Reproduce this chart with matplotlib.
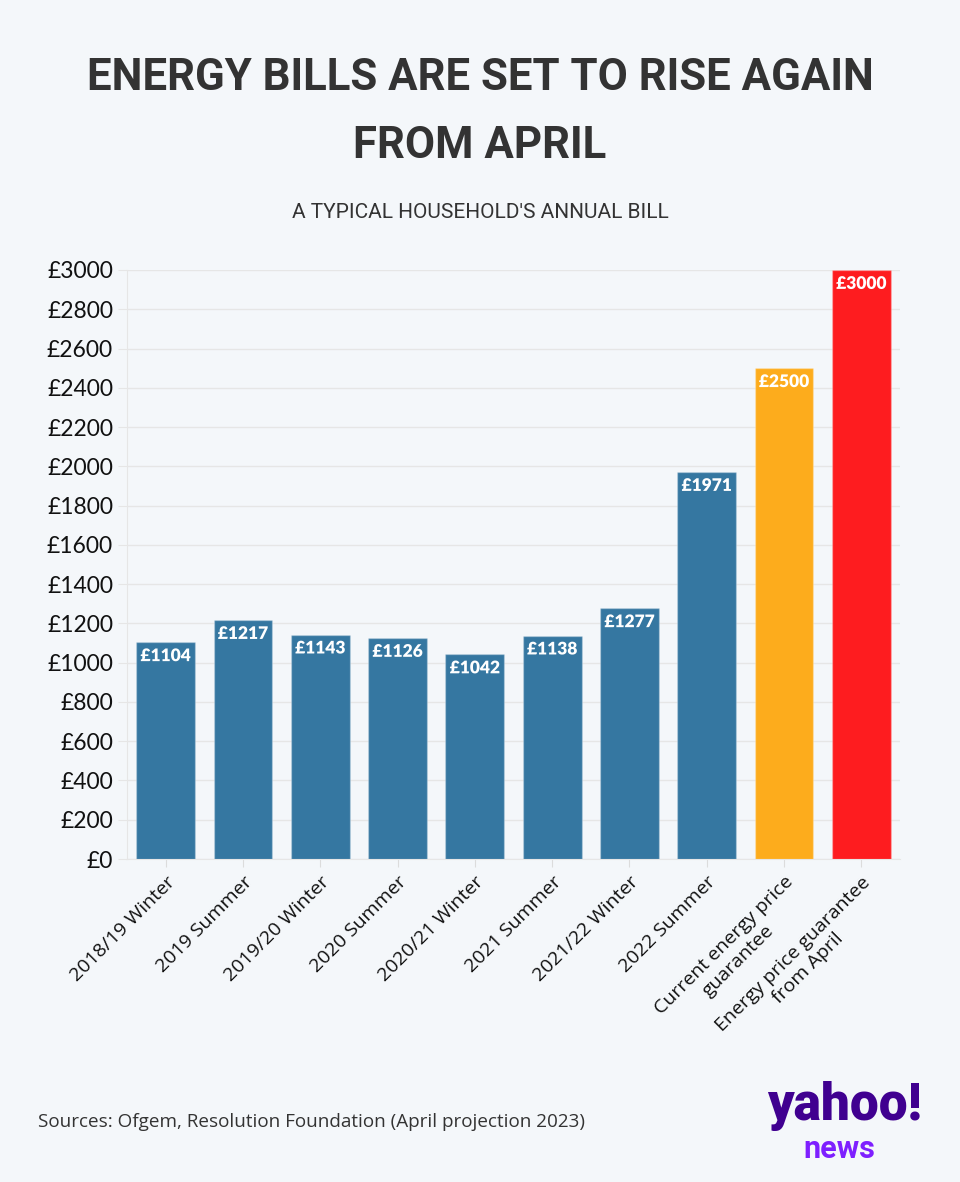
import matplotlib
matplotlib.use("Agg")
import matplotlib.pyplot as plt
import matplotlib.patheffects as pe
from matplotlib import font_manager
import numpy as np

# Data
periods = [
    "2018/19 Winter", "2019 Summer", "2019/20 Winter", "2020 Summer",
    "2020/21 Winter", "2021 Summer", "2021/22 Winter", "2022 Summer",
    "Current energy price\nguarantee", "Energy price guarantee\nfrom April",
]
bills = [1104, 1217, 1143, 1126, 1042, 1138, 1277, 1971, 2500, 3000]
bar_colors = ["#3577a1"] * 8 + ["#fdac1c", "#fe1c1f"]
yticks = list(range(0, 3001, 200))

BG = "#f4f7fa"
GRID = "#e6e6e6"
PX = 72 / 100  # points per pixel at dpi 100


def pick_font(names, fallback):
    for n in names:
        try:
            font_manager.findfont(font_manager.FontProperties(family=n),
                                  fallback_to_default=False)
            return n
        except ValueError:
            continue
    return fallback


narrow = pick_font(["Liberation Sans Narrow"], None)
title_font = narrow or "Roboto"
title_size = 35 if narrow else 31.5
sub_size = 16 if narrow else 15

fig = plt.figure(figsize=(9.6, 11.82), dpi=100, facecolor=BG)
ax = fig.add_axes([127 / 960, 1 - 859 / 1182, 773 / 960, 589 / 1182])
ax.set_facecolor(BG)

x = np.arange(len(bills))
ax.bar(x, bills, width=0.76, color=bar_colors,
       edgecolor=(1, 1, 1, 0.25), linewidth=1, zorder=3)

# value labels inside the top of each bar
for xi, v, c in zip(x, bills, bar_colors):
    ax.annotate(f"£{v}", (xi, v), xytext=(0, -10), textcoords="offset points",
                ha="center", va="center", color="white", fontsize=12.5,
                fontweight="heavy", family="Lato", zorder=4,
                path_effects=[pe.withStroke(linewidth=3, foreground=c)])

ax.set_xlim(-0.5, len(bills) - 0.5)
ax.set_ylim(0, 3000)
ax.set_yticks(yticks)
ax.set_yticklabels([f"£{t}" for t in yticks], family="Lato", fontsize=16.5,
                   color="#111111")
ax.set_xticks(x)
ax.set_xticklabels(periods, rotation=45, ha="right", rotation_mode="anchor",
                   multialignment="center", family="Open Sans", fontsize=14,
                   color="#111111")
ax.tick_params(axis="y", length=9 * PX, color=GRID, pad=5 * PX)
ax.tick_params(axis="x", length=8 * PX, color="#dcdcdc", pad=6 * PX)

ax.yaxis.grid(True, color=GRID, linewidth=1, zorder=0)
ax.set_axisbelow(True)
for s in ["top", "right"]:
    ax.spines[s].set_visible(False)
ax.spines["left"].set_color(GRID)
ax.spines["bottom"].set_color(GRID)

# titles
fig.text(0.5, 1 - 78 / 1182, "ENERGY BILLS ARE SET TO RISE AGAIN",
         ha="center", va="center", family=title_font, fontweight="bold",
         fontsize=title_size, color="#333333")
fig.text(0.5, 1 - 146 / 1182, "FROM APRIL",
         ha="center", va="center", family=title_font, fontweight="bold",
         fontsize=title_size, color="#333333")
fig.text(0.5, 1 - 213 / 1182, "A TYPICAL HOUSEHOLD'S ANNUAL BILL",
         ha="center", va="center", family=title_font, fontsize=sub_size,
         color="#333333")

# footer
fig.text(38 / 960, 1 - 1122 / 1182,
         "Sources: Ofgem, Resolution Foundation (April projection 2023)",
         ha="left", va="center", family="Open Sans", fontsize=13.6,
         color="#333333")
fig.text(922 / 960, 1 - 1120 / 1182, "yahoo!", ha="right", va="baseline",
         family="Roboto", fontweight="black", fontsize=37, color="#400090")
fig.text(839 / 960, 1 - 1158 / 1182, "news", ha="center", va="baseline",
         family="Roboto", fontweight="bold", fontsize=22, color="#7e1fff")

fig.savefig("out.png", dpi=100, facecolor=BG)
